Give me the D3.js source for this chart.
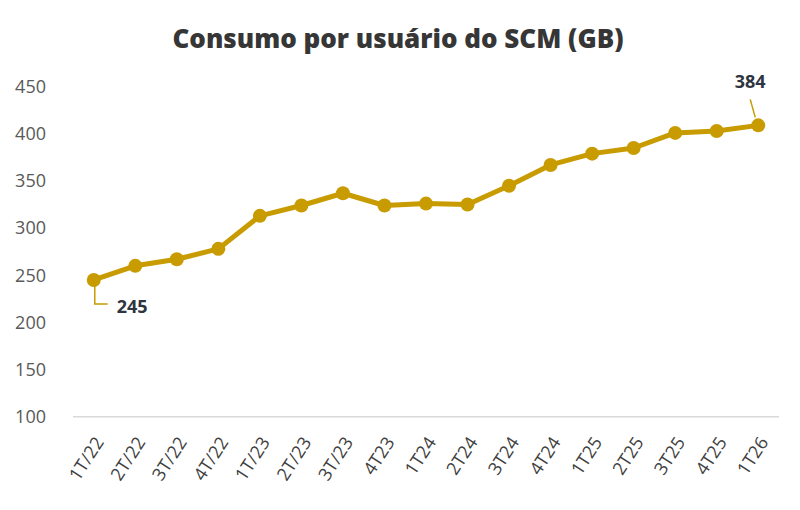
<!DOCTYPE html>
<html>
<head>
<meta charset="utf-8">
<script src="https://cdn.jsdelivr.net/npm/d3@7"></script>
<style>
  body { margin: 0; background: #fff; }
  svg text { font-family: "Open Sans", "Noto Sans", sans-serif; }
</style>
</head>
<body>
<svg id="chart" width="800" height="510"></svg>
<script>
// data
var quarters = ["1T/22", "2T/22", "3T/22", "4T/22", "1T/23", "2T/23", "3T/23", "4T23",
                "1T24", "2T24", "3T24", "4T24", "1T25", "2T25", "3T25", "4T25", "1T26"];
var consumo = [245, 260, 267, 278, 313, 324, 337, 324, 326, 325, 345, 367, 379, 385, 401, 403, 409];
var yTicks = [100, 150, 200, 250, 300, 350, 400, 450];
// data labels shown on the chart (index -> text)
var labelIdx = [0, 16];
var labelText = ["245", "384"];

var gold = "#C89B00";

var svg = d3.select("#chart"),
    MARGINS = { top: 87, right: 21, bottom: 93, left: 73 },
    WIDTH = 800, HEIGHT = 510;

var xScale = d3.scalePoint().domain(quarters)
      .range([MARGINS.left, WIDTH - MARGINS.right]).padding(0.5),
    yScale = d3.scaleLinear().domain([100, 450])
      .range([416.7, 86.7]);

// title
svg.append("text")
   .attr("x", 398).attr("y", 48)
   .attr("text-anchor", "middle")
   .attr("font-size", 26).attr("font-weight", 800)
   .attr("fill", "#363636")
   .text("Consumo por usuário do SCM (GB)");

// baseline
svg.append("line")
   .attr("x1", MARGINS.left).attr("x2", WIDTH - MARGINS.right)
   .attr("y1", yScale(100)).attr("y2", yScale(100))
   .attr("stroke", "#d9d9d9").attr("stroke-width", 1.5);

// y axis (labels only)
var yAxis = svg.append("g")
   .attr("transform", "translate(46,0)")
   .call(d3.axisLeft(yScale).tickValues(yTicks).tickSize(0).tickPadding(0));
yAxis.select(".domain").remove();
yAxis.selectAll("text")
   .attr("font-size", 18).attr("fill", "#595959")
   .attr("font-family", "'Open Sans', sans-serif");

// x axis (rotated labels)
var xAxis = svg.append("g")
   .attr("transform", "translate(0," + (yScale(100) + 22) + ")")
   .call(d3.axisBottom(xScale).tickSize(0).tickPadding(0));
xAxis.select(".domain").remove();
xAxis.selectAll("text")
   .attr("font-size", 18).attr("fill", "#404040")
   .attr("font-family", "'Open Sans', sans-serif")
   .attr("text-anchor", "end")
   .attr("dy", "0.35em")
   .attr("transform", "translate(5,0) rotate(-57)");

// line
var lineGen = d3.line()
   .x(function(d, i) { return xScale(quarters[i]); })
   .y(function(d) { return yScale(d); });

svg.append("path")
   .attr("d", lineGen(consumo))
   .attr("stroke", gold).attr("stroke-width", 5)
   .attr("stroke-linejoin", "round")
   .attr("fill", "none");

svg.selectAll("circle.pt")
   .data(consumo)
   .enter().append("circle")
   .attr("class", "pt")
   .attr("cx", function(d, i) { return xScale(quarters[i]); })
   .attr("cy", function(d) { return yScale(d); })
   .attr("r", 7)
   .attr("fill", gold);

// data labels with leader lines
var first = labelIdx[0], last = labelIdx[1];
var fx = xScale(quarters[first]), fy = yScale(consumo[first]);
svg.append("path")
   .attr("d", "M" + (fx + 1) + "," + (fy + 6) + " V" + (fy + 24) + " H" + (fx + 14))
   .attr("stroke", gold).attr("stroke-width", 1.5).attr("fill", "none");
svg.append("text")
   .attr("x", fx + 23).attr("y", fy + 33)
   .attr("font-size", 18).attr("font-weight", 700).attr("fill", "#2e3440")
   .text(labelText[0]);

var lx = xScale(quarters[last]), ly = yScale(consumo[last]);
svg.append("line")
   .attr("x1", lx - 3).attr("y1", ly - 8)
   .attr("x2", lx - 8).attr("y2", ly - 26)
   .attr("stroke", gold).attr("stroke-width", 1.5);
svg.append("text")
   .attr("x", lx - 8).attr("y", ly - 37)
   .attr("text-anchor", "middle")
   .attr("font-size", 18).attr("font-weight", 700).attr("fill", "#2e3440")
   .text(labelText[1]);
</script>
</body>
</html>
